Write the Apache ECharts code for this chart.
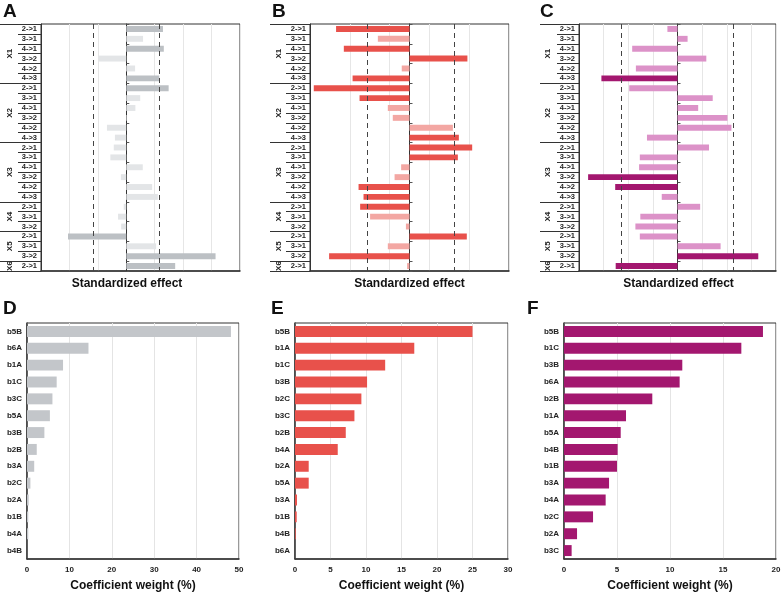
<!DOCTYPE html>
<html><head><meta charset="utf-8">
<script src="https://cdn.jsdelivr.net/npm/echarts@6/dist/echarts.min.js"></script>
<style>html,body{margin:0;padding:0;background:#fff}#c{width:783px;height:594px}</style>
</head><body><div id="c"></div>
<script>
const FONT = '"Liberation Sans", Arial, sans-serif';

// ---- top panels (standardized effects) ----
const groupNames = ['X1', 'X2', 'X3', 'X4', 'X5', 'X6'];
const groupPairs = [
  ['2->1', '3->1', '4->1', '3->2', '4->2', '4->3'],
  ['2->1', '3->1', '4->1', '3->2', '4->2', '4->3'],
  ['2->1', '3->1', '4->1', '3->2', '4->2', '4->3'],
  ['2->1', '3->1', '3->2'],
  ['2->1', '3->1', '3->2'],
  ['2->1']
];

const effectA = [1.29, 0.59, 1.32, -0.98, 0.31, 1.16, 1.49, 0.49, 0.32, 0.02, -0.68, -0.40, -0.44, -0.56, 0.58, -0.19, 0.91, 1.11, -0.09, -0.29, -0.18, -2.05, 1.05, 3.14, 1.72];
const sigA    = [1, 0, 1, 0, 0, 1, 1, 0, 0, 0, 0, 0, 0, 0, 0, 0, 0, 0, 0, 0, 0, 1, 0, 1, 1];
const threshA = [-1.16, 1.16];

const effectB = [-3.69, -1.59, -3.30, 2.91, -0.39, -2.86, -4.81, -2.51, -1.09, -0.84, 2.18, 2.48, 3.15, 2.43, -0.42, -0.75, -2.56, -2.31, -2.48, -1.98, -0.18, 2.88, -1.09, -4.04, -0.12];
const sigB    = [1, 0, 1, 1, 0, 1, 1, 1, 0, 0, 0, 1, 1, 1, 0, 0, 1, 1, 1, 0, 0, 1, 0, 1, 0];
const threshB = [-2.13, 2.26];

const effectC = [-0.41, 0.41, -1.84, 1.17, -1.69, -3.09, -1.96, 1.43, 0.84, 2.03, 2.19, -1.24, 1.28, -1.53, -1.56, -3.63, -2.53, -0.64, 0.92, -1.51, -1.71, -1.53, 1.75, 3.28, -2.51];
const sigC    = [0, 0, 0, 0, 0, 1, 0, 0, 0, 0, 0, 0, 0, 0, 0, 1, 1, 0, 0, 0, 0, 0, 0, 1, 1];
const threshC = [-2.29, 2.25];

// ---- bottom panels (coefficient weights, %) ----
const catsD = ['b5B', 'b6A', 'b1A', 'b1C', 'b3C', 'b5A', 'b3B', 'b2B', 'b3A', 'b2C', 'b2A', 'b1B', 'b4A', 'b4B'];
const valsD = [48.1, 14.5, 8.5, 7.0, 6.0, 5.4, 4.1, 2.3, 1.7, 0.8, 0.4, 0.3, 0.3, 0];
const catsE = ['b5B', 'b1A', 'b1C', 'b3B', 'b2C', 'b3C', 'b2B', 'b4A', 'b2A', 'b5A', 'b3A', 'b1B', 'b4B', 'b6A'];
const valsE = [25.0, 16.8, 12.7, 10.15, 9.35, 8.37, 7.15, 6.02, 1.93, 1.93, 0.28, 0.24, 0.1, 0];
const catsF = ['b5B', 'b1C', 'b3B', 'b6A', 'b2B', 'b1A', 'b5A', 'b4B', 'b1B', 'b3A', 'b4A', 'b2C', 'b2A', 'b3C'];
const valsF = [18.77, 16.73, 11.16, 10.91, 8.33, 5.85, 5.35, 5.06, 5.0, 4.25, 3.93, 2.74, 1.23, 0.72];

const rowKeys = [];
groupPairs.forEach((ps, g) => ps.forEach(p => rowKeys.push(groupNames[g] + '|' + p)));
const groupStarts = [];
const groupMids = [];
let acc = 0;
groupPairs.forEach(ps => { groupStarts.push(acc); groupMids.push(acc + ps.length / 2); acc += ps.length; });
groupStarts.push(acc);

const option = { animation: false, backgroundColor: '#fff', title: [], grid: [], xAxis: [], yAxis: [], series: [] };

function letter(t, left, top) {
  option.title.push({ text: t, left: left, top: top, padding: 0,
    textStyle: { fontFamily: FONT, fontWeight: 'bold', fontSize: 19, color: '#111' } });
}

function addTop(p) {
  const gi = option.grid.length;
  option.grid.push({ left: p.left, top: 24, width: p.width, height: 247, show: true,
    borderColor: '#333', borderWidth: 1, backgroundColor: 'transparent', containLabel: false, outerBoundsMode: 'none' });
  const xi = option.xAxis.length;
  option.xAxis.push({ type: 'value', gridIndex: gi, min: p.min, max: p.max, interval: p.interval,
    axisLabel: { show: false }, axisTick: { show: false },
    axisLine: { show: true, onZero: false, lineStyle: { color: '#333', width: 1.5 } },
    splitLine: { show: true, lineStyle: { color: '#e6e6e6', width: 1 } },
    name: 'Standardized effect', nameLocation: 'middle', nameGap: 7,
    nameTextStyle: { fontFamily: FONT, fontWeight: 'bold', fontSize: 12, color: '#111', padding: p.namePad } });
  const yi = option.yAxis.length;
  option.yAxis.push({ type: 'category', gridIndex: gi, data: rowKeys, inverse: true, position: 'left',
    axisLine: { show: true, onZero: false, lineStyle: { color: '#333', width: 1 } },
    axisTick: { show: true, length: p.rowTick, lineStyle: { color: '#333', width: 1 } },
    axisLabel: { show: true, interval: 0, margin: 4, fontFamily: FONT, fontWeight: 'bold', fontSize: 7.5, color: '#222',
      formatter: v => v.split('|')[1] },
    splitLine: { show: false } });
  option.yAxis.push({ type: 'value', gridIndex: gi, min: 0, max: rowKeys.length, inverse: true, position: 'left',
    axisLine: { show: false, onZero: false },
    axisTick: { show: true, customValues: groupStarts, length: p.groupTick, lineStyle: { color: '#333', width: 1 } },
    axisLabel: { show: true, customValues: groupMids, rotate: 90, margin: 31, align: 'center', verticalAlign: 'middle',
      fontFamily: FONT, fontWeight: 'bold', fontSize: 8, color: '#222',
      formatter: v => { const k = groupMids.indexOf(v); return k >= 0 ? groupNames[k] : ''; } },
    splitLine: { show: false } });
  option.yAxis.push({ type: 'category', gridIndex: gi, data: rowKeys, inverse: true, position: 'left',
    axisLine: { show: true, onZero: true, lineStyle: { color: '#333', width: 1 } },
    axisTick: { show: true, inside: true, length: 3, lineStyle: { color: '#555', width: 1 } },
    axisLabel: { show: false }, splitLine: { show: false } });
  option.series.push({ type: 'bar', xAxisIndex: xi, yAxisIndex: yi, barWidth: '60%',
    data: p.values.map((v, k) => ({ value: v, itemStyle: { color: p.sig[k] ? p.dark : p.light } })),
    markLine: { silent: true, symbol: 'none', label: { show: false },
      lineStyle: { color: '#444', width: 1, type: [5, 4] },
      data: p.thr.map(t => ({ xAxis: t })) } });
}

function addBottom(p) {
  const gi = option.grid.length;
  option.grid.push({ left: p.left, top: 323, width: p.width, height: 236, show: true,
    borderColor: '#333', borderWidth: 1, backgroundColor: 'transparent', containLabel: false, outerBoundsMode: 'none' });
  const xi = option.xAxis.length;
  option.xAxis.push({ type: 'value', gridIndex: gi, min: 0, max: p.max, interval: p.interval,
    axisLabel: { show: true, margin: 7, fontFamily: FONT, fontWeight: 'bold', fontSize: 8, color: '#222' },
    axisTick: { show: false },
    axisLine: { show: true, onZero: false, lineStyle: { color: '#333', width: 1.5 } },
    splitLine: { show: true, lineStyle: { color: '#e4e4e4', width: 1 } },
    name: 'Coefficient weight (%)', nameLocation: 'middle', nameGap: 21,
    nameTextStyle: { fontFamily: FONT, fontWeight: 'bold', fontSize: 12, color: '#111' } });
  const yi = option.yAxis.length;
  option.yAxis.push({ type: 'category', gridIndex: gi, data: p.cats, inverse: true,
    axisLine: { show: true, onZero: false, lineStyle: { color: '#333', width: 1.5 } },
    axisTick: { show: false },
    axisLabel: { show: true, interval: 0, margin: 5, fontFamily: FONT, fontWeight: 'bold', fontSize: 8, color: '#222' },
    splitLine: { show: false } });
  option.series.push({ type: 'bar', xAxisIndex: xi, yAxisIndex: yi, barWidth: '65%',
    itemStyle: { color: p.color }, data: p.values });
}

addTop({ left: 41, width: 199, min: -3, max: 4, interval: 1, values: effectA, sig: sigA, thr: threshA,
  dark: '#bcc0c4', light: '#e3e5e7', rowTick: 23, groupTick: 41, namePad: [0, 27, 0, 0] });
addTop({ left: 310, width: 199, min: -5, max: 5, interval: 2, values: effectB, sig: sigB, thr: threshB,
  dark: '#e8514b', light: '#f3a7a3', rowTick: 24, groupTick: 40, namePad: [0, 0, 0, 0] });
addTop({ left: 579, width: 197, min: -4, max: 4, interval: 1, values: effectC, sig: sigC, thr: threshC,
  dark: '#a3176f', light: '#dc92c8', rowTick: 22, groupTick: 39, namePad: [0, 0, 0, 2] });

addBottom({ left: 27, width: 212, max: 50, interval: 10, cats: catsD, values: valsD, color: '#c3c6ca' });
addBottom({ left: 295, width: 213, max: 30, interval: 5, cats: catsE, values: valsE, color: '#e8514b' });
addBottom({ left: 564, width: 212, max: 20, interval: 5, cats: catsF, values: valsF, color: '#a3176f' });

letter('A', 3, 2); letter('B', 272, 2); letter('C', 540, 2);
letter('D', 3, 299); letter('E', 271, 299); letter('F', 527, 299);

const chart = echarts.init(document.getElementById('c'), null, { renderer: 'canvas' });
chart.setOption(option);
</script></body></html>
